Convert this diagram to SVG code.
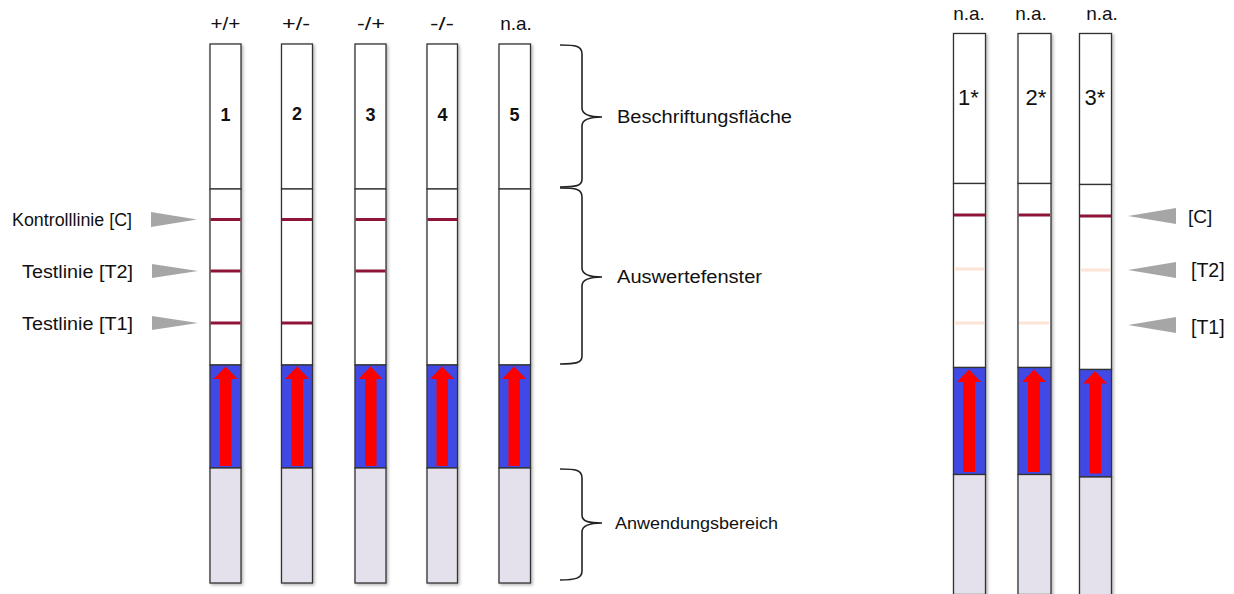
<svg xmlns="http://www.w3.org/2000/svg" width="1234" height="594" viewBox="0 0 1234 594">
<defs>
<filter id="sh" x="-30%" y="-5%" width="160%" height="110%">
<feDropShadow dx="1.5" dy="1.5" stdDeviation="1.5" flood-color="#000" flood-opacity="0.3"/>
</filter>
</defs>
<style>
.t{font-family:"Liberation Sans",Arial,sans-serif;fill:#111}
.lab{font-size:19px}
.num{font-size:18px;font-weight:bold;text-anchor:middle}
.sec{stroke:#333;stroke-width:1.3}
.wh{fill:#fff}
.bl{fill:#414AE6}
.lv{fill:#E4E0EC}
.ln{stroke:#8E1538;stroke-width:3}
.fn{stroke:#FCE4D6;stroke-width:3}
.ar{fill:#FF0000}
.tri{fill:#A6A6A6}
.br{fill:none;stroke:#222;stroke-width:1.6}
</style>

<!-- top labels -->
<g id="headers">
<text class="t lab" x="225.5" y="30" text-anchor="middle" textLength="30" lengthAdjust="spacingAndGlyphs">+/+</text>
<text class="t lab" x="296" y="30" text-anchor="middle" textLength="28" lengthAdjust="spacingAndGlyphs">+/-</text>
<text class="t lab" x="371" y="30" text-anchor="middle" textLength="28" lengthAdjust="spacingAndGlyphs">-/+</text>
<text class="t lab" x="442" y="30" text-anchor="middle" textLength="24" lengthAdjust="spacingAndGlyphs">-/-</text>
<text class="t lab" x="516" y="30" text-anchor="middle">n.a.</text>
<text class="t lab" x="969" y="20" text-anchor="middle">n.a.</text>
<text class="t lab" x="1031" y="20" text-anchor="middle">n.a.</text>
<text class="t lab" x="1102" y="20" text-anchor="middle">n.a.</text>
</g>

<!-- left strips -->
<g id="strip1">
<g filter="url(#sh)">
<rect class="sec wh" x="210" y="44" width="31" height="145"/>
<rect class="sec wh" x="210" y="189" width="31" height="176"/>
<rect class="sec bl" x="210" y="365" width="31" height="103"/>
<rect class="sec lv" x="210" y="468" width="31" height="115"/>
</g>
<text class="t num" x="225.5" y="121">1</text>
<line class="ln" x1="210.5" y1="219.5" x2="240.5" y2="219.5"/>
<line class="ln" x1="210.5" y1="271" x2="240.5" y2="271"/>
<line class="ln" x1="210.5" y1="323" x2="240.5" y2="323"/>
<polygon class="ar" points="220,466 231.5,466 231.5,379 237.5,379 225.7,366.5 213.5,379 220,379"/>
</g>

<g id="strip2">
<g filter="url(#sh)">
<rect class="sec wh" x="281.5" y="44" width="31" height="145"/>
<rect class="sec wh" x="281.5" y="189" width="31" height="176"/>
<rect class="sec bl" x="281.5" y="365" width="31" height="103"/>
<rect class="sec lv" x="281.5" y="468" width="31" height="115"/>
</g>
<text class="t num" x="297" y="120">2</text>
<line class="ln" x1="282" y1="219.5" x2="312" y2="219.5"/>
<line class="ln" x1="282" y1="323" x2="312" y2="323"/>
<polygon class="ar" points="291.5,466 303,466 303,379 309,379 297,366.5 285,379 291.5,379"/>
</g>

<g id="strip3">
<g filter="url(#sh)">
<rect class="sec wh" x="355" y="44" width="31" height="145"/>
<rect class="sec wh" x="355" y="189" width="31" height="176"/>
<rect class="sec bl" x="355" y="365" width="31" height="103"/>
<rect class="sec lv" x="355" y="468" width="31" height="115"/>
</g>
<text class="t num" x="370.5" y="121">3</text>
<line class="ln" x1="355.5" y1="219.5" x2="385.5" y2="219.5"/>
<line class="ln" x1="355.5" y1="271" x2="385.5" y2="271"/>
<polygon class="ar" points="365,466 376.5,466 376.5,379 382.5,379 370.5,366.5 358.5,379 365,379"/>
</g>

<g id="strip4">
<g filter="url(#sh)">
<rect class="sec wh" x="427" y="44" width="30.5" height="145"/>
<rect class="sec wh" x="427" y="189" width="30.5" height="176"/>
<rect class="sec bl" x="427" y="365" width="30.5" height="103"/>
<rect class="sec lv" x="427" y="468" width="30.5" height="115"/>
</g>
<text class="t num" x="442.5" y="121">4</text>
<line class="ln" x1="427.5" y1="219.5" x2="457" y2="219.5"/>
<polygon class="ar" points="436.5,466 448,466 448,379 454,379 442,366.5 430,379 436.5,379"/>
</g>

<g id="strip5">
<g filter="url(#sh)">
<rect class="sec wh" x="499" y="44" width="31.5" height="145"/>
<rect class="sec wh" x="499" y="189" width="31.5" height="176"/>
<rect class="sec bl" x="499" y="365" width="31.5" height="103"/>
<rect class="sec lv" x="499" y="468" width="31.5" height="115"/>
</g>
<text class="t num" x="514.5" y="121">5</text>
<polygon class="ar" points="508.5,466 520,466 520,379 526,379 514,366.5 502,379 508.5,379"/>
</g>

<!-- right strips -->
<g id="strip1s">
<g filter="url(#sh)">
<rect class="sec wh" x="953.5" y="33.5" width="32" height="150"/>
<rect class="sec wh" x="953.5" y="183.5" width="32" height="184"/>
<rect class="sec bl" x="953.5" y="367.5" width="32" height="107"/>
<rect class="sec lv" x="953.5" y="474.5" width="32" height="120"/>
</g>
<text class="t" x="968.5" y="105" text-anchor="middle" font-size="22">1*</text>
<line class="ln" x1="954" y1="215" x2="985" y2="215"/>
<line class="fn" x1="954" y1="269" x2="984" y2="269"/>
<line class="fn" x1="954" y1="323" x2="984" y2="323"/>
<polygon class="ar" points="963,472 975,472 975,382 981,382 969,369.5 957,382 963,382"/>
</g>

<g id="strip2s">
<g filter="url(#sh)">
<rect class="sec wh" x="1018" y="33.5" width="33" height="150"/>
<rect class="sec wh" x="1018" y="183.5" width="33" height="184"/>
<rect class="sec bl" x="1018" y="367.5" width="33" height="107"/>
<rect class="sec lv" x="1018" y="474.5" width="33" height="120"/>
</g>
<text class="t" x="1036" y="105" text-anchor="middle" font-size="22">2*</text>
<line class="ln" x1="1018.5" y1="215" x2="1050" y2="215"/>
<line class="fn" x1="1019" y1="323" x2="1049" y2="323"/>
<polygon class="ar" points="1028,472 1040,472 1040,382 1046,382 1034,369.5 1022,382 1028,382"/>
</g>

<g id="strip3s">
<g filter="url(#sh)">
<rect class="sec wh" x="1079.5" y="33.5" width="32" height="151"/>
<rect class="sec wh" x="1079.5" y="184.5" width="32" height="185"/>
<rect class="sec bl" x="1079.5" y="369.5" width="32" height="107.5"/>
<rect class="sec lv" x="1079.5" y="477" width="32" height="118"/>
</g>
<text class="t" x="1095" y="105" text-anchor="middle" font-size="22">3*</text>
<line class="ln" x1="1080" y1="216" x2="1111" y2="216"/>
<line class="fn" x1="1081" y1="270" x2="1110" y2="270"/>
<polygon class="ar" points="1089.5,473.5 1101,473.5 1101,383.5 1107,383.5 1095,371 1083,383.5 1089.5,383.5"/>
</g>

<!-- line labels left -->
<g id="labels-left">
<text class="t" font-size="17.5" x="132" y="225.5" text-anchor="end" textLength="120" lengthAdjust="spacingAndGlyphs">Kontrolllinie [C]</text>
<text class="t" font-size="18" x="133" y="277.5" text-anchor="end" textLength="111" lengthAdjust="spacingAndGlyphs">Testlinie [T2]</text>
<text class="t" font-size="18" x="133" y="329.5" text-anchor="end" textLength="111" lengthAdjust="spacingAndGlyphs">Testlinie [T1]</text>
<polygon class="tri" points="151,212 197,219.5 151,227"/>
<polygon class="tri" points="152,264 198,271 152,278"/>
<polygon class="tri" points="152,316 198,323 152,330"/>
</g>

<!-- line labels right -->
<g id="labels-right">
<polygon class="tri" points="1176,208 1128,216 1176,224"/>
<polygon class="tri" points="1176,262 1128,270 1176,278"/>
<polygon class="tri" points="1176,317 1128,325 1176,333"/>
<text class="t" font-size="19" x="1188" y="223">[C]</text>
<text class="t" font-size="19.5" x="1191" y="277">[T2]</text>
<text class="t" font-size="19.5" x="1191" y="334">[T1]</text>
</g>

<!-- braces -->
<g id="connectors">
<path class="br" d="M560,45 C576,45 582,46 582,54 L582,108 C582,115 590,117 602,117 C590,117 582,119 582,126 L582,179 C582,186 576,187 560,187"/>
<path class="br" d="M560,188 C576,188 582,189 582,197 L582,268 C582,275 590,277 602,277 C590,277 582,279 582,286 L582,356 C582,363 576,364 560,364"/>
<path class="br" d="M560,469 C576,469 582,470 582,478 L582,515 C582,522 590,523 602,523 C590,523 582,525 582,532 L582,571 C582,578 576,580 560,580"/>
</g>

<g id="section-labels">
<text class="t" font-size="18" x="617" y="123" textLength="175" lengthAdjust="spacingAndGlyphs">Beschriftungsfläche</text>
<text class="t" font-size="18" x="617" y="283" textLength="145" lengthAdjust="spacingAndGlyphs">Auswertefenster</text>
<text class="t" font-size="16" x="615" y="529" textLength="163" lengthAdjust="spacingAndGlyphs">Anwendungsbereich</text>
</g>
</svg>
